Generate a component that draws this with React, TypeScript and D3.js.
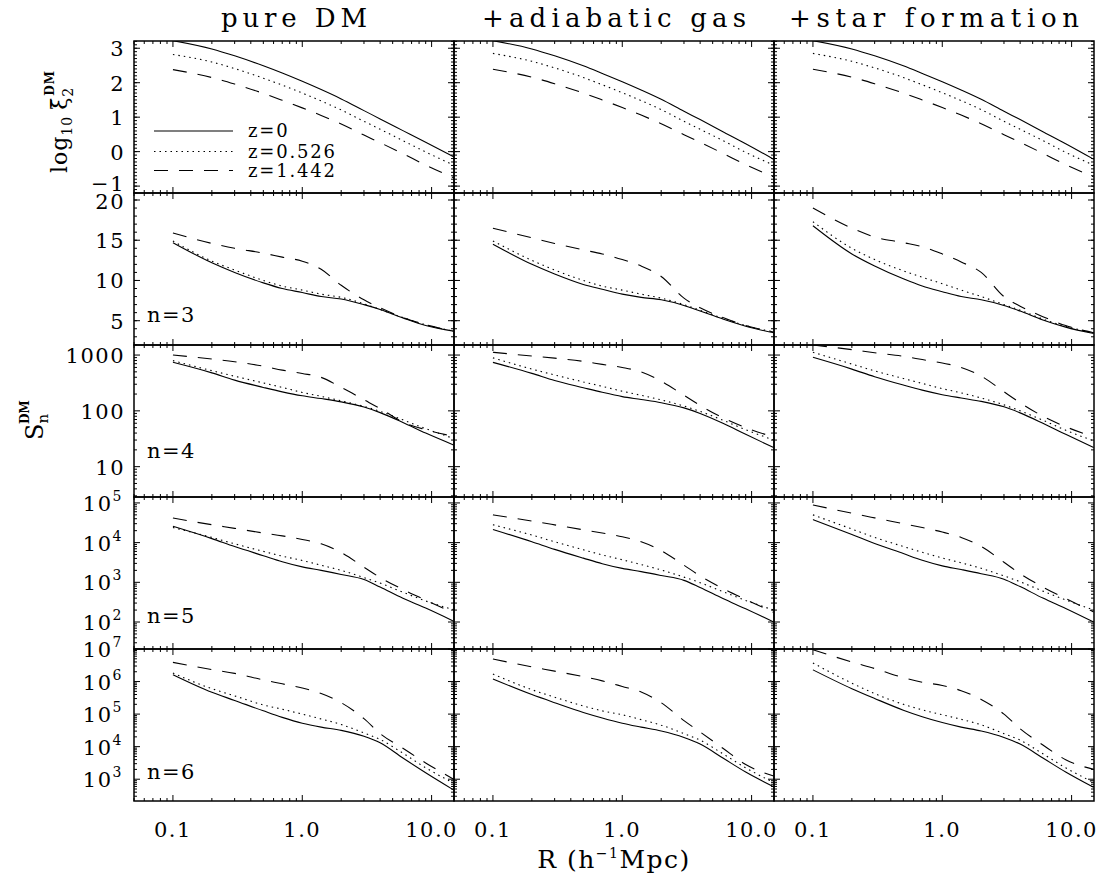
import React from "react";
import * as d3 from "d3";

// ---------------- DATA ----------------
const R_VALUES = [0.1, 0.2, 0.3, 0.5, 0.7, 1.0, 1.4, 2.0, 3.0, 4.0, 6.0, 9.0, 14.8];

const COLUMN_TITLES = ["pure DM", "+adiabatic gas", "+star formation"];
const LEGEND_LABELS = ["z=0", "z=0.526", "z=1.442"];
const PANEL_LABELS = ["", "n=3", "n=4", "n=5", "n=6"];
const X_TICK_LABELS = ["0.1", "1.0", "10.0"];

// Row 1: log10 xi2
const xi2_DM_z0 = [3.22, 2.98, 2.78, 2.49, 2.28, 2.04, 1.8, 1.53, 1.19, 0.95, 0.61, 0.27, -0.15];
const xi2_DM_z05 = [2.82, 2.6, 2.41, 2.13, 1.93, 1.7, 1.47, 1.21, 0.88, 0.65, 0.32, -0.01, -0.39];
const xi2_DM_z14 = [2.38, 2.15, 1.96, 1.69, 1.49, 1.27, 1.05, 0.8, 0.48, 0.26, -0.06, -0.39, -0.76];
const xi2_AD_z0 = [3.22, 2.98, 2.78, 2.49, 2.27, 2.03, 1.79, 1.52, 1.17, 0.93, 0.58, 0.23, -0.22];
const xi2_AD_z05 = [2.85, 2.62, 2.43, 2.15, 1.94, 1.71, 1.48, 1.22, 0.88, 0.65, 0.32, -0.02, -0.39];
const xi2_AD_z14 = [2.39, 2.16, 1.97, 1.7, 1.5, 1.28, 1.06, 0.81, 0.49, 0.27, -0.05, -0.38, -0.73];
const xi2_SF_z0 = [3.22, 2.98, 2.78, 2.49, 2.27, 2.03, 1.79, 1.52, 1.17, 0.93, 0.58, 0.23, -0.22];
const xi2_SF_z05 = [2.85, 2.62, 2.43, 2.15, 1.94, 1.71, 1.48, 1.22, 0.88, 0.65, 0.32, -0.02, -0.39];
const xi2_SF_z14 = [2.39, 2.16, 1.97, 1.7, 1.5, 1.28, 1.06, 0.81, 0.49, 0.27, -0.05, -0.38, -0.73];

// Row 2: S3
const s3_DM_z0 = [14.7, 12.2, 11.0, 9.7, 9.0, 8.5, 8.0, 7.7, 7.0, 6.4, 5.35, 4.4, 3.7];
const s3_DM_z05 = [14.9, 12.4, 11.3, 10.0, 9.3, 8.8, 8.3, 7.9, 7.1, 6.4, 5.4, 4.5, 3.7];
const s3_DM_z14 = [15.9, 14.6, 14.0, 13.4, 12.9, 12.4, 11.4, 9.4, 7.6, 6.6, 5.4, 4.5, 3.7];
const s3_AD_z0 = [14.5, 12.0, 10.8, 9.5, 8.9, 8.3, 7.9, 7.6, 6.9, 6.2, 5.2, 4.3, 3.5];
const s3_AD_z05 = [14.9, 12.5, 11.3, 10.0, 9.3, 8.8, 8.3, 7.8, 7.0, 6.3, 5.3, 4.4, 3.6];
const s3_AD_z14 = [16.5, 15.3, 14.6, 13.8, 13.3, 12.6, 11.8, 10.5, 7.8, 6.6, 5.4, 4.4, 3.6];
const s3_SF_z0 = [16.8, 13.3, 11.8, 10.2, 9.3, 8.6, 8.0, 7.6, 6.9, 6.2, 5.1, 4.2, 3.4];
const s3_SF_z05 = [17.3, 14.0, 12.6, 11.2, 10.4, 9.6, 8.8, 8.0, 7.0, 6.3, 5.2, 4.3, 3.5];
const s3_SF_z14 = [19.0, 16.5, 15.4, 14.7, 14.2, 13.3, 12.3, 11.0, 8.0, 6.8, 5.5, 4.4, 3.5];

// Row 3: S4
const s4_DM_z0 = [741, 479, 355, 263, 219, 186, 166, 145, 117, 93, 62, 40, 24.5];
const s4_DM_z05 = [794, 525, 417, 316, 263, 214, 182, 151, 120, 98, 69, 48, 32];
const s4_DM_z14 = [1000, 851, 759, 631, 537, 468, 398, 263, 158, 110, 63, 46, 35];
const s4_AD_z0 = [740, 470, 350, 260, 215, 180, 160, 140, 113, 90, 60, 38, 22];
const s4_AD_z05 = [890, 560, 440, 330, 275, 225, 190, 157, 122, 98, 68, 46, 30];
const s4_AD_z14 = [1120, 960, 880, 770, 680, 600, 500, 340, 190, 125, 75, 50, 34];
const s4_SF_z0 = [910, 560, 410, 290, 235, 195, 170, 148, 118, 92, 60, 38, 22];
const s4_SF_z05 = [1120, 690, 520, 380, 310, 250, 210, 170, 128, 100, 68, 45, 29];
const s4_SF_z14 = [1510, 1250, 1100, 950, 830, 720, 600, 420, 220, 140, 80, 52, 34];

// Row 4: S5
const s5_DM_z0 = [25700, 12600, 7940, 4680, 3310, 2450, 2000, 1580, 1175, 759, 398, 224, 105];
const s5_DM_z05 = [24000, 13500, 9330, 6030, 4570, 3550, 2690, 2000, 1320, 955, 562, 339, 204];
const s5_DM_z14 = [41700, 28200, 22900, 17400, 14800, 12000, 9330, 5620, 2400, 1320, 661, 355, 170];
const s5_AD_z0 = [21400, 10500, 6760, 4070, 2950, 2240, 1860, 1480, 1120, 740, 390, 215, 100];
const s5_AD_z05 = [28200, 15500, 10500, 6600, 4900, 3700, 2800, 2050, 1350, 980, 580, 350, 200];
const s5_AD_z14 = [50100, 35000, 28000, 21000, 17500, 14000, 10500, 6300, 2700, 1450, 700, 370, 175];
const s5_SF_z0 = [38000, 16000, 9500, 5300, 3600, 2600, 2100, 1650, 1200, 780, 400, 220, 100];
const s5_SF_z05 = [50000, 22000, 13500, 8000, 5700, 4100, 3100, 2250, 1450, 1030, 600, 360, 200];
const s5_SF_z14 = [89000, 55000, 42000, 30000, 24000, 18500, 13500, 8000, 3200, 1650, 760, 390, 180];

// Row 5: S6
const s6_DM_z0 = [1.62e6, 4.68e5, 2.63e5, 1.26e5, 7.94e4, 5.25e4, 3.98e4, 3.16e4, 2.09e4, 1.32e4, 4470, 1580, 468];
const s6_DM_z05 = [1.82e6, 6.03e5, 3.63e5, 1.91e5, 1.41e5, 1.0e5, 7.08e4, 4.79e4, 2.63e4, 1.66e4, 6310, 2240, 759];
const s6_DM_z14 = [3.89e6, 2.34e6, 1.78e6, 1.12e6, 8.51e5, 6.31e5, 4.27e5, 2.24e5, 7.24e4, 2.51e4, 8910, 3160, 1000];
const s6_AD_z0 = [1.2e6, 3.98e5, 2.24e5, 1.12e5, 7.59e4, 5.25e4, 3.98e4, 3.02e4, 1.91e4, 1.2e4, 4470, 1660, 589];
const s6_AD_z05 = [1.7e6, 5.62e5, 3.31e5, 1.78e5, 1.26e5, 9.55e4, 6.76e4, 4.57e4, 2.51e4, 1.58e4, 6030, 2240, 794];
const s6_AD_z14 = [4.9e6, 2.82e6, 2.09e6, 1.41e6, 1.05e6, 7.08e5, 4.79e5, 2.24e5, 6.31e4, 2.82e4, 8910, 2820, 1260];
const s6_SF_z0 = [2.29e6, 6.03e5, 3.02e5, 1.32e5, 8.32e4, 5.5e4, 3.98e4, 3.02e4, 1.91e4, 1.2e4, 4470, 1660, 562];
const s6_SF_z05 = [3.72e6, 8.91e5, 4.27e5, 2.0e5, 1.35e5, 9.55e4, 6.92e4, 4.68e4, 2.51e4, 1.58e4, 6030, 2240, 794];
const s6_SF_z14 = [9.55e6, 3.98e6, 2.51e6, 1.32e6, 9.55e5, 7.59e5, 5.25e5, 2.82e5, 1.0e5, 3.55e4, 1.12e4, 3980, 2000];

const PANEL_SERIES = [
  [[xi2_DM_z0, xi2_DM_z05, xi2_DM_z14], [xi2_AD_z0, xi2_AD_z05, xi2_AD_z14], [xi2_SF_z0, xi2_SF_z05, xi2_SF_z14]],
  [[s3_DM_z0, s3_DM_z05, s3_DM_z14], [s3_AD_z0, s3_AD_z05, s3_AD_z14], [s3_SF_z0, s3_SF_z05, s3_SF_z14]],
  [[s4_DM_z0, s4_DM_z05, s4_DM_z14], [s4_AD_z0, s4_AD_z05, s4_AD_z14], [s4_SF_z0, s4_SF_z05, s4_SF_z14]],
  [[s5_DM_z0, s5_DM_z05, s5_DM_z14], [s5_AD_z0, s5_AD_z05, s5_AD_z14], [s5_SF_z0, s5_SF_z05, s5_SF_z14]],
  [[s6_DM_z0, s6_DM_z05, s6_DM_z14], [s6_AD_z0, s6_AD_z05, s6_AD_z14], [s6_SF_z0, s6_SF_z05, s6_SF_z14]],
];

// ---------------- LAYOUT ----------------
const W = 1105;
const H = 879;
const COL_X0 = [134, 454, 774];
const ROW_Y0 = [41, 193, 345, 497, 649];
const PW = 320;
const PH = 152;
const FONT = "'DejaVu Serif', serif";
const DASHES = [null, "1.5,4", "14,11"];

type RowSpec = {
  log: boolean;
  domain: [number, number];
  major: number[];
  minor: number[];
  labels: { v: number; base: string; exp?: string; dy?: number }[];
};

function logMinor(lo: number, hi: number): number[] {
  const out: number[] = [];
  for (let e = Math.floor(Math.log10(lo)); e <= Math.ceil(Math.log10(hi)); e++) {
    for (let k = 2; k <= 9; k++) {
      const v = k * Math.pow(10, e);
      if (v >= lo && v <= hi) out.push(v);
    }
  }
  return out;
}
function linMinor(lo: number, hi: number, step: number): number[] {
  const out: number[] = [];
  const start = Math.ceil(lo / step - 1e-9);
  for (let i = start; i * step <= hi + 1e-9; i++) out.push(+(i * step).toFixed(6));
  return out;
}

const ROWS: RowSpec[] = [
  {
    log: false,
    domain: [-1.2, 3.21],
    major: [-1, 0, 1, 2, 3],
    minor: linMinor(-1.2, 3.21, 0.1),
    labels: [-1, 0, 1, 2, 3].map((v) => ({ v, base: v < 0 ? "\u2212" + Math.abs(v) : String(v), dy: v < 0 ? -3 : 0 })),
  },
  {
    log: false,
    domain: [1.98, 20.87],
    major: [5, 10, 15, 20],
    minor: linMinor(1.98, 20.87, 1),
    labels: [5, 10, 15, 20].map((v) => ({ v, base: String(v), dy: v === 20 ? 1 : 0 })),
  },
  {
    log: true,
    domain: [2.86, 1514],
    major: [10, 100, 1000],
    minor: logMinor(2.86, 1514),
    labels: [10, 100, 1000].map((v) => ({ v, base: String(v) })),
  },
  {
    log: true,
    domain: [20.9, 141000],
    major: [1e2, 1e3, 1e4, 1e5],
    minor: logMinor(20.9, 141000),
    labels: [2, 3, 4, 5].map((e) => ({ v: Math.pow(10, e), base: "10", exp: String(e) })),
  },
  {
    log: true,
    domain: [214, 1e7],
    major: [1e3, 1e4, 1e5, 1e6, 1e7],
    minor: logMinor(214, 1e7),
    labels: [3, 4, 5, 6, 7].map((e) => ({ v: Math.pow(10, e), base: "10", exp: String(e) })),
  },
];

const X_MAJOR = [0.1, 1, 10];
const X_MINOR = logMinor(0.05, 14.9);
const PANEL_LABEL_BASELINE = [0, 322, 458, 623, 779];

function Panel({ r, c }: { r: number; c: number }) {
  const x0 = COL_X0[c];
  const y0 = ROW_Y0[r];
  const spec = ROWS[r];
  const xs = d3.scaleLog().domain([0.05, 14.9]).range([x0, x0 + PW]);
  const ys = (spec.log ? d3.scaleLog() : d3.scaleLinear()).domain(spec.domain).range([y0 + PH, y0]);
  const line = d3
    .line<number>()
    .x((_, i) => xs(R_VALUES[i]))
    .y((d) => ys(d))
    .curve(d3.curveMonotoneX);
  const clipId = `clip-${r}-${c}`;
  const MAJ = 6;
  const MIN = 3;
  const tickEls: React.ReactNode[] = [];
  X_MAJOR.forEach((v, i) => {
    const x = xs(v);
    tickEls.push(<line key={`xM${i}b`} x1={x} x2={x} y1={y0 + PH} y2={y0 + PH - MAJ} />);
    tickEls.push(<line key={`xM${i}t`} x1={x} x2={x} y1={y0} y2={y0 + MAJ} />);
  });
  X_MINOR.forEach((v, i) => {
    const x = xs(v);
    tickEls.push(<line key={`xm${i}b`} x1={x} x2={x} y1={y0 + PH} y2={y0 + PH - MIN} />);
    tickEls.push(<line key={`xm${i}t`} x1={x} x2={x} y1={y0} y2={y0 + MIN} />);
  });
  spec.major.forEach((v, i) => {
    const y = ys(v);
    tickEls.push(<line key={`yM${i}l`} x1={x0} x2={x0 + MAJ} y1={y} y2={y} />);
    tickEls.push(<line key={`yM${i}r`} x1={x0 + PW} x2={x0 + PW - MAJ} y1={y} y2={y} />);
  });
  spec.minor.forEach((v, i) => {
    const y = ys(v);
    tickEls.push(<line key={`ym${i}l`} x1={x0} x2={x0 + MIN} y1={y} y2={y} />);
    tickEls.push(<line key={`ym${i}r`} x1={x0 + PW} x2={x0 + PW - MIN} y1={y} y2={y} />);
  });

  return (
    <g>
      <defs>
        <clipPath id={clipId}>
          <rect x={x0} y={y0} width={PW} height={PH} />
        </clipPath>
      </defs>
      <g clipPath={`url(#${clipId})`} fill="none" stroke="#000" strokeWidth={1.1}>
        {PANEL_SERIES[r][c].map((s, k) => (
          <path key={k} d={line(s) || ""} strokeDasharray={DASHES[k] || undefined} />
        ))}
      </g>
      <g stroke="#000" strokeWidth={1}>{tickEls}</g>
      <rect x={x0} y={y0} width={PW} height={PH} fill="none" stroke="#000" strokeWidth={1.5} />
      {c === 0 &&
        spec.labels.map((l, i) => {
          const y = ys(l.v) + (l.dy || 0);
          return l.exp ? (
            <text key={i} x={x0 - 11} y={y + 8} textAnchor="end" fontFamily={FONT} fontSize={21} letterSpacing={1.5}>
              {l.base}
              <tspan fontSize={14} dy={-10}>{l.exp}</tspan>
            </text>
          ) : (
            <text key={i} x={x0 - 9} y={y + 8} textAnchor="end" fontFamily={FONT} fontSize={21} letterSpacing={1.5}>
              {l.base}
            </text>
          );
        })}
      {r === 4 &&
        X_MAJOR.map((v, i) => (
          <text key={i} x={xs(v)} y={837} textAnchor="middle" fontFamily={FONT} fontSize={21} letterSpacing={1.5}>
            {X_TICK_LABELS[i]}
          </text>
        ))}
      {c === 0 && PANEL_LABELS[r] && (
        <text x={x0 + 13} y={PANEL_LABEL_BASELINE[r]} fontFamily={FONT} fontSize={21} letterSpacing={1.5}>
          {PANEL_LABELS[r]}
        </text>
      )}
    </g>
  );
}

function Legend() {
  const ys = [131, 151.5, 170.5];
  return (
    <g>
      {LEGEND_LABELS.map((lab, k) => (
        <g key={k}>
          <line x1={154} x2={233} y1={ys[k]} y2={ys[k]} stroke="#000" strokeWidth={1.1} strokeDasharray={DASHES[k] || undefined} />
          <text x={248} y={ys[k] + 6} fontFamily={FONT} fontSize={18} letterSpacing={1.8}>
            {lab}
          </text>
        </g>
      ))}
    </g>
  );
}

export default function App() {
  const titleW = [146, 264, 290];
  return (
    <svg width={W} height={H} style={{ position: "absolute", left: 0, top: 0, background: "#fff" }}>
      <rect x={0} y={0} width={W} height={H} fill="#fff" />
      {COLUMN_TITLES.map((t, c) => (
        <text
          key={c}
          x={COL_X0[c] + PW / 2 - titleW[c] / 2}
          y={27}
          fontFamily={FONT}
          fontSize={26}
          textLength={titleW[c]}
          lengthAdjust="spacing"
        >
          {t}
        </text>
      ))}
      {ROW_Y0.map((_, r) => COL_X0.map((__, c) => <Panel key={`${r}-${c}`} r={r} c={c} />))}
      <Legend />
      {/* y label row 1 */}
      <g transform="translate(67,173) rotate(-90)" fontFamily={FONT}>
        <text x={0} y={0} fontSize={22} letterSpacing={1}>
          log
          <tspan fontSize={14} dy={5}>10</tspan>
          <tspan fontSize={22} dy={-5} dx={6}>{"\u03BE\u0304"}</tspan>
          <tspan fontSize={14} dy={6}>2</tspan>
          <tspan fontSize={12} fontWeight="bold" dx={-9} dy={-19}>DM</tspan>
        </text>
      </g>
      {/* y label S_n */}
      <g transform="translate(43,440) rotate(-90)" fontFamily={FONT}>
        <text x={0} y={0} fontSize={24}>
          S
          <tspan fontSize={15} dy={5}>n</tspan>
          <tspan fontSize={12} fontWeight="bold" dx={-10} dy={-19}>DM</tspan>
        </text>
      </g>
      <text x={614} y={868} textAnchor="middle" fontFamily={FONT} fontSize={25} letterSpacing={1.5}>
        R (h<tspan fontSize={14} dy={-10}>{"\u22121"}</tspan>
        <tspan dy={10}>Mpc)</tspan>
      </text>
    </svg>
  );
}
